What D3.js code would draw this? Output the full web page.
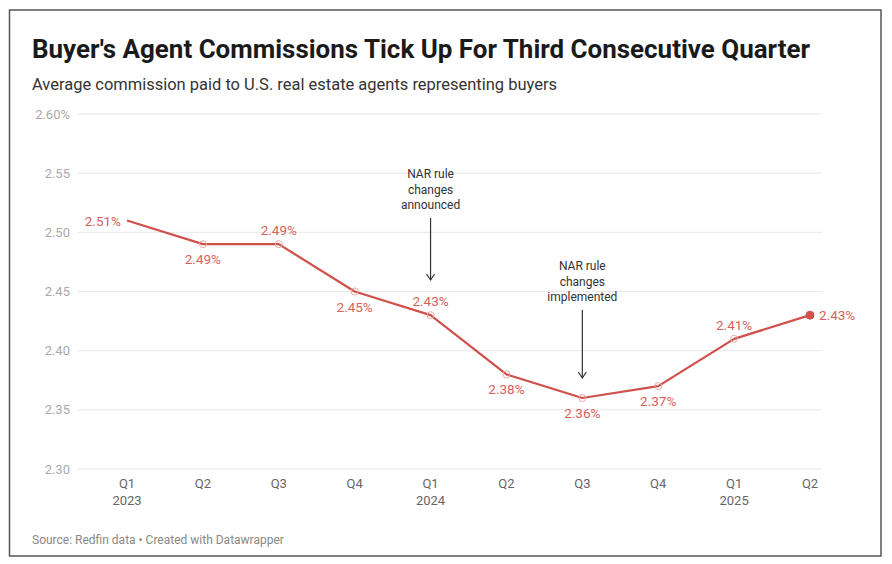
<!DOCTYPE html>
<html>
<head>
<meta charset="utf-8">
<script src="https://cdn.jsdelivr.net/npm/d3@7"></script>
<style>
  html, body { margin: 0; padding: 0; background: #fff; }
  svg { display: block; font-family: Roboto, 'Noto Sans', sans-serif; }
</style>
</head>
<body>
<div id="chart"></div>
<script>
// Quarter labels and values
const quarters = ['Q1', 'Q2', 'Q3', 'Q4', 'Q1', 'Q2', 'Q3', 'Q4', 'Q1', 'Q2']
const years = ['2023', '', '', '', '2024', '', '', '', '2025', '']
const commission = [2.51, 2.49, 2.49, 2.45, 2.43, 2.38, 2.36, 2.37, 2.41, 2.43]
// where each value label sits relative to its point
const labelPos = ['left', 'below', 'above', 'below', 'above', 'below', 'below', 'below', 'above', 'right']
const yTicks = [2.30, 2.35, 2.40, 2.45, 2.50, 2.55, 2.60]

const annotations = [
  { index: 4, lines: ['NAR rule', 'changes', 'announced'], textY: 178, arrowFrom: 218, arrowTo: 280 },
  { index: 6, lines: ['NAR rule', 'changes', 'implemented'], textY: 270, arrowFrom: 310, arrowTo: 378 }
]

const width = 892
const height = 564
const lineColor = '#d0504b'
const labelColor = '#d9615c'

const svg = d3.select('#chart')
  .append('svg')
  .attr('width', width)
  .attr('height', height)

// Outer frame
svg.append('rect')
  .attr('x', 9.5)
  .attr('y', 10)
  .attr('width', 871.5)
  .attr('height', 546)
  .attr('fill', '#fff')
  .attr('stroke', '#555')
  .attr('stroke-width', 1.5)

// Title and subtitle (condensed look, like the reference)
svg.append('text')
  .attr('x', 32)
  .attr('y', 58)
  .attr('font-size', 25)
  .attr('font-weight', 700)
  .attr('fill', '#1a1a1a')
  .attr('textLength', 778)
  .attr('lengthAdjust', 'spacingAndGlyphs')
  .text("Buyer's Agent Commissions Tick Up For Third Consecutive Quarter")

svg.append('text')
  .attr('x', 32)
  .attr('y', 90)
  .attr('font-size', 16)
  .attr('fill', '#333')
  .attr('textLength', 525)
  .attr('lengthAdjust', 'spacingAndGlyphs')
  .text('Average commission paid to U.S. real estate agents representing buyers')

// Scales
const x = d3.scalePoint()
  .domain(d3.range(commission.length))
  .range([127, 810])

const y = d3.scaleLinear()
  .domain([2.30, 2.60])
  .range([469, 114])

// Gridlines + y labels
const grid = svg.append('g').attr('class', 'grid')
grid.selectAll('line')
  .data(yTicks)
  .join('line')
  .attr('x1', 78)
  .attr('x2', 822)
  .attr('y1', d => y(d))
  .attr('y2', d => y(d))
  .attr('stroke', '#e8e8e8')
  .attr('stroke-width', 1)

grid.selectAll('text')
  .data(yTicks)
  .join('text')
  .attr('x', 70)
  .attr('y', d => y(d) + 4.5)
  .attr('text-anchor', 'end')
  .attr('font-size', 13)
  .attr('fill', '#aaa')
  .text((d, i) => i === yTicks.length - 1 ? d3.format('.2f')(d) + '%' : d3.format('.2f')(d))

// X axis labels
const xAxis = svg.append('g').attr('class', 'x-axis')
xAxis.selectAll('text.q')
  .data(quarters)
  .join('text')
  .attr('class', 'q')
  .attr('x', (d, i) => x(i))
  .attr('y', 488)
  .attr('text-anchor', 'middle')
  .attr('font-size', 13)
  .attr('fill', '#666')
  .text(d => d)

xAxis.selectAll('text.yr')
  .data(years)
  .join('text')
  .attr('class', 'yr')
  .attr('x', (d, i) => x(i))
  .attr('y', 505)
  .attr('text-anchor', 'middle')
  .attr('font-size', 13)
  .attr('fill', '#666')
  .text(d => d)

// Line
const line = d3.line()
  .x((d, i) => x(i))
  .y(d => y(d))

svg.append('path')
  .datum(commission)
  .attr('d', line)
  .attr('fill', 'none')
  .attr('stroke', lineColor)
  .attr('stroke-width', 2.2)
  .attr('stroke-linejoin', 'round')

// Point markers (hollow except last, none on first)
const last = commission.length - 1
svg.append('g')
  .selectAll('circle')
  .data(commission.map((v, i) => ({ v, i })).filter(d => d.i > 0))
  .join('circle')
  .attr('cx', d => x(d.i))
  .attr('cy', d => y(d.v))
  .attr('r', d => d.i === last ? 4 : 3.5)
  .attr('fill', d => d.i === last ? lineColor : 'none')
  .attr('stroke', d => d.i === last ? lineColor : '#e6a8a6')
  .attr('stroke-width', 1)

// Value labels
const fmt = d => d3.format('.2f')(d) + '%'
svg.append('g')
  .selectAll('text')
  .data(commission.map((v, i) => ({ v, i, pos: labelPos[i] })))
  .join('text')
  .attr('x', d => d.pos === 'left' ? x(d.i) - 6 : d.pos === 'right' ? x(d.i) + 9 : x(d.i))
  .attr('y', d => {
    if (d.pos === 'above') return y(d.v) - 9
    if (d.pos === 'below') return y(d.v) + 20
    return y(d.v) + 5
  })
  .attr('text-anchor', d => d.pos === 'left' ? 'end' : d.pos === 'right' ? 'start' : 'middle')
  .attr('font-size', 13.5)
  .attr('fill', labelColor)
  .text(d => fmt(d.v))

// Annotations
const ann = svg.append('g').attr('class', 'annotations')
annotations.forEach(a => {
  const ax = x(a.index)
  ann.append('text')
    .attr('x', ax)
    .attr('y', a.textY)
    .attr('text-anchor', 'middle')
    .attr('font-size', 12)
    .attr('fill', '#333')
    .selectAll('tspan')
    .data(a.lines)
    .join('tspan')
    .attr('x', ax)
    .attr('dy', (d, i) => i === 0 ? 0 : 15.5)
    .text(d => d)

  ann.append('line')
    .attr('x1', ax)
    .attr('x2', ax)
    .attr('y1', a.arrowFrom)
    .attr('y2', a.arrowTo)
    .attr('stroke', '#333')
    .attr('stroke-width', 1.2)

  ann.append('path')
    .attr('d', `M${ax - 4},${a.arrowTo - 6}L${ax},${a.arrowTo}L${ax + 4},${a.arrowTo - 6}`)
    .attr('fill', 'none')
    .attr('stroke', '#333')
    .attr('stroke-width', 1.2)
})

// Source line
svg.append('text')
  .attr('x', 32)
  .attr('y', 544)
  .attr('font-size', 12)
  .attr('fill', '#888')
  .text('Source: Redfin data • Created with Datawrapper')
</script>
</body>
</html>
